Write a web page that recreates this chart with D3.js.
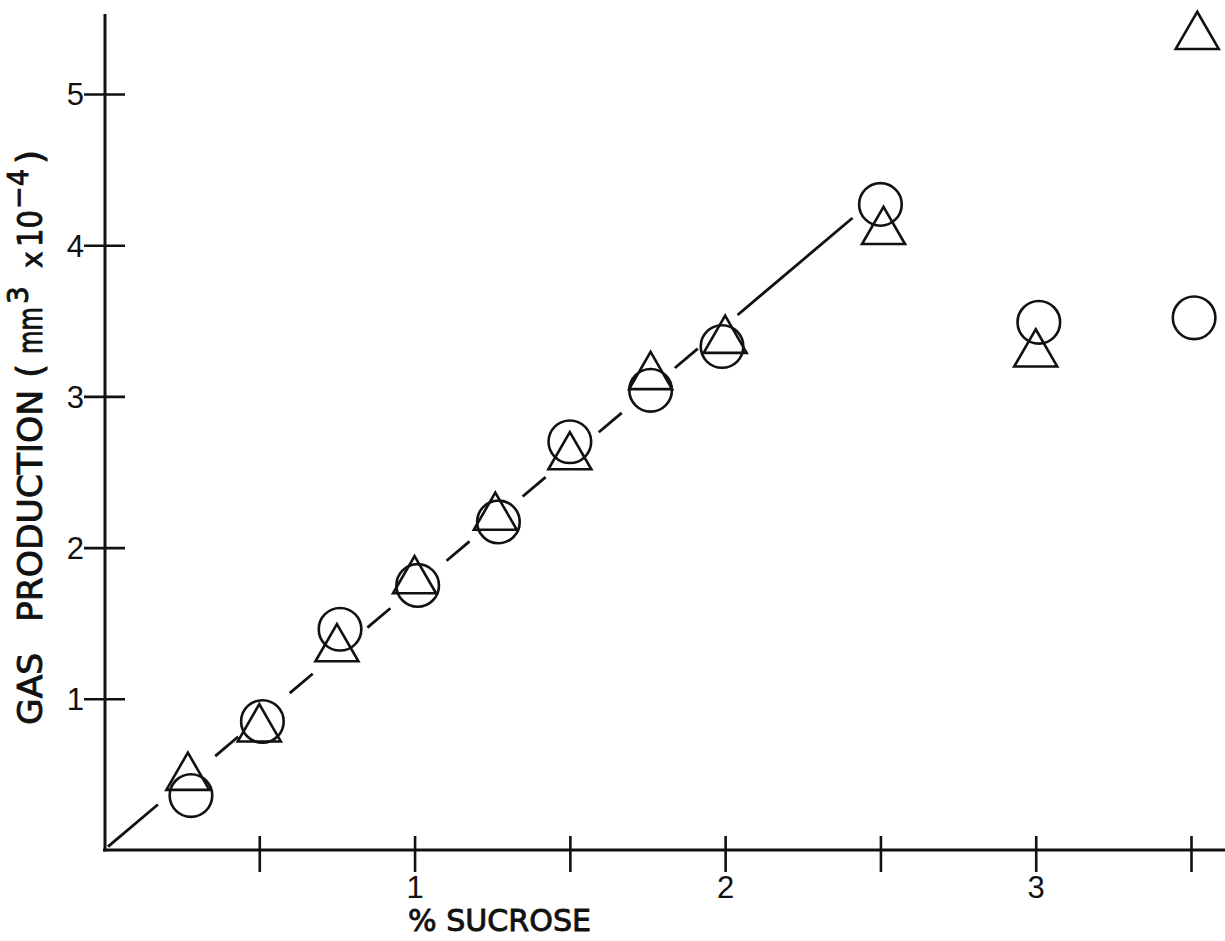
<!DOCTYPE html>
<html>
<head>
<meta charset="utf-8">
<script src="https://cdn.jsdelivr.net/npm/d3@7"></script>
<style>
  html, body { margin: 0; padding: 0; background: #fff; }
  svg { display: block; }
</style>
</head>
<body>
<script>
// Sucrose concentration (%) for each pair of measurements
const sucroseCircle   = [0.28, 0.51, 0.76, 1.01, 1.27, 1.50, 1.76, 1.99, 2.50, 3.01, 3.51];
const sucroseTriangle = [0.27, 0.50, 0.75, 1.00, 1.26, 1.50, 1.76, 2.00, 2.51, 3.00, 3.52];
// Gas production (mm^3 x 10^-4)
const gasCircle   = [0.36, 0.85, 1.46, 1.75, 2.17, 2.70, 3.04, 3.33, 4.27, 3.49, 3.52];
const gasTriangle = [0.48, 0.80, 1.33, 1.78, 2.20, 2.60, 3.13, 3.37, 4.09, 3.28, 5.38];
// Fitted line through the linear range: [sucrose, gas] end points
const fitLine = [[0, 0], [2.41, 4.18]];
const fitSolidFrom = 2.04;   // beyond the last dashed point the line is solid
// Axis ticks
const xTicks = [0.5, 1, 1.5, 2, 2.5, 3, 3.5];
const xTickLabels = ["", "1", "", "2", "", "3", ""];
const yTicks = [1, 2, 3, 4, 5];
const yTickLabels = ["1", "2", "3", "4", "5"];

const W = 1225, H = 941;
const ink = "#111";
const titleFont = "'DejaVu Sans', 'Noto Sans', sans-serif";
const tickFont = "'Liberation Sans', Arial, sans-serif";

const svg = d3.select("body").append("svg")
  .attr("width", W).attr("height", H)
  .attr("viewBox", `0 0 ${W} ${H}`);

const x = d3.scaleLinear().domain([0, 3.5]).range([104, 1191]);
const y = d3.scaleLinear().domain([0, 5]).range([850, 94]);

// ---- axes ----
const xAxis = svg.append("g")
  .attr("transform", `translate(0,${y(0)})`)
  .call(d3.axisBottom(x).tickValues(xTicks).tickSize(22)
        .tickFormat((d, i) => xTickLabels[i]));
xAxis.select(".domain").remove();
xAxis.selectAll(".tick line").attr("y1", -14).attr("stroke", ink).attr("stroke-width", 2.6);
xAxis.selectAll(".tick text")
  .attr("y", 26).attr("dy", "0.71em")
  .attr("font-family", tickFont)
  .attr("font-size", 31).attr("fill", ink);

const yAxis = svg.append("g")
  .attr("transform", `translate(${x(0) + 1},0)`)
  .call(d3.axisLeft(y).tickValues(yTicks).tickSize(20)
        .tickFormat((d, i) => yTickLabels[i]));
yAxis.select(".domain").remove();
yAxis.selectAll(".tick line").attr("x2", 20).attr("x1", -21).attr("stroke", ink).attr("stroke-width", 2.6);
yAxis.selectAll(".tick text")
  .attr("x", -21).attr("dy", "0.35em")
  .attr("font-family", tickFont)
  .attr("font-size", 31).attr("fill", ink);

// axis lines
svg.append("line")
  .attr("x1", x(0) - 1).attr("x2", W).attr("y1", y(0)).attr("y2", y(0))
  .attr("stroke", ink).attr("stroke-width", 3);
svg.append("line")
  .attr("x1", x(0) + 1).attr("x2", x(0) + 1).attr("y1", y(0) + 1.5).attr("y2", 14)
  .attr("stroke", ink).attr("stroke-width", 3);

// ---- fitted line: short dashes between the points, solid at the top ----
const [f0, f1] = fitLine;
const gasAt = s => f0[1] + (f1[1] - f0[1]) * (s - f0[0]) / (f1[0] - f0[0]);
const segs = [];
// first dash leaves the origin
segs.push([0.013, sucroseCircle[0] * 0.62]);
// one dash centred between each pair of neighbouring points
for (let i = 0; i + 1 < sucroseCircle.length; i++) {
  const a = sucroseCircle[i], b = sucroseCircle[i + 1];
  if (b > 2.05) break;
  const mid = (a + b) / 2, half = 0.037;
  segs.push([mid - half, mid + half]);
}
segs.push([fitSolidFrom, f1[0]]);

svg.append("g").selectAll("line").data(segs).join("line")
  .attr("x1", d => x(d[0])).attr("y1", d => y(gasAt(d[0])))
  .attr("x2", d => x(d[1])).attr("y2", d => y(gasAt(d[1])))
  .attr("stroke", ink).attr("stroke-width", 2.8).attr("stroke-linecap", "butt");

// ---- markers ----
const circles = sucroseCircle.map((s, i) => ({ s, g: gasCircle[i] }));
const triangles = sucroseTriangle.map((s, i) => ({ s, g: gasTriangle[i] }));

svg.append("g").selectAll("circle").data(circles).join("circle")
  .attr("cx", d => x(d.s)).attr("cy", d => y(d.g)).attr("r", 21.3)
  .attr("fill", "none").attr("stroke", ink).attr("stroke-width", 2.6);

const tri = d3.symbol().type(d3.symbolTriangle).size(800);
svg.append("g").selectAll("path").data(triangles).join("path")
  .attr("d", tri)
  .attr("transform", d => `translate(${x(d.s)},${y(d.g)})`)
  .attr("fill", "none").attr("stroke", ink).attr("stroke-width", 2.6)
  .attr("stroke-linejoin", "miter");

// ---- axis titles ----
svg.append("text")
  .attr("x", 408).attr("y", 931)
  .attr("font-family", titleFont)
  .attr("font-size", 31).attr("fill", ink)
  .attr("stroke", ink).attr("stroke-width", 0.9)
  .attr("textLength", 183).attr("lengthAdjust", "spacingAndGlyphs")
  .text("% SUCROSE");

const yt = svg.append("text")
  .attr("transform", "translate(42,725) rotate(-90)")
  .attr("font-family", titleFont)
  .attr("font-size", 33).attr("fill", ink)
  .attr("stroke", ink).attr("stroke-width", 0.9);
function piece(txt, at, len, opts = {}) {
  const t = yt.append("tspan").attr("x", at).attr("y", opts.dy || 0).text(txt);
  if (len) t.attr("textLength", len).attr("lengthAdjust", "spacingAndGlyphs");
  if (opts.size) t.attr("font-size", opts.size);
  return t;
}
piece("GAS", 0, 72);
piece("PRODUCTION", 103, 232);
piece("(", 347, 0, { size: 36 });
piece("mm", 371, 47);
piece("3", 421, 0, { dy: -14, size: 28 });
piece("x", 457, 0, { size: 28 });
piece("10", 478, 37);
piece("−4", 516, 40, { dy: -14, size: 28 });
piece(")", 561, 0, { size: 36 });
</script>
</body>
</html>
